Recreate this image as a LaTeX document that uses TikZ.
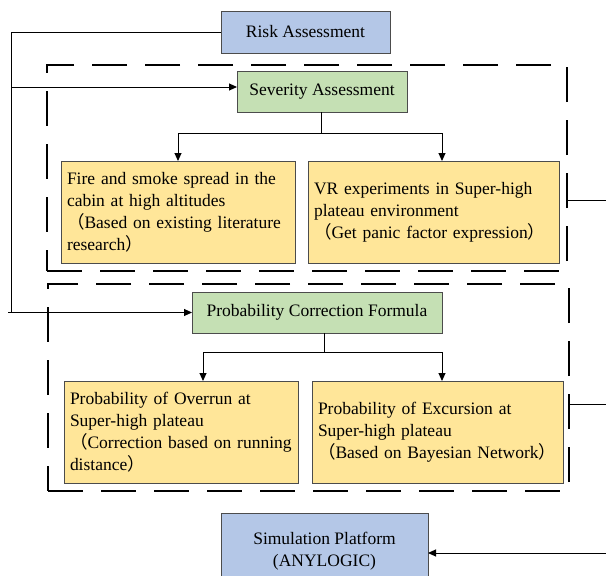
\documentclass[tikz,border=0pt]{standalone}
\usepackage{fontspec}
\setmainfont{Liberation Serif}
\newfontfamily\cjk{Noto Sans CJK SC}
\usepackage{xcolor}
\usepackage{tikz}
\usetikzlibrary{arrows.meta}
\newcommand{\flp}{{\cjk （}}
\newcommand{\frp}{{\cjk ）}}
\definecolor{boxblue}{HTML}{B4C7E7}
\definecolor{boxgreen}{HTML}{C5E0B4}
\definecolor{boxyellow}{HTML}{FFE699}
\tikzset{
  box/.style={draw=black!70,line width=0.9pt,inner sep=0pt,outer sep=0pt,font={\fontsize{17.5}{22}\selectfont}},
  bluebox/.style={box,fill=boxblue,align=center},
  greenbox/.style={box,fill=boxgreen},
  yellowbox/.style={box,fill=boxyellow,align=left,inner xsep=6pt,minimum height=102},
  groupframe/.style={draw,line width=2.2pt,dash pattern=on 35pt off 18pt,inner sep=0pt,outer sep=0pt},
  arr/.style={-{Triangle[length=8pt,width=7pt]}},
}

\begin{document}
\begin{tikzpicture}[x=1pt,y=-1pt,line width=1pt]
\useasboundingbox (0,0) rectangle (606,576);
\clip (0,0) rectangle (606,576);
% ---- RISK ----
\node[bluebox,minimum width=169,minimum height=42] (risk) at (305.5,32) {Risk Assessment};
% ---- SEVERITY ----
\node[groupframe,minimum width=520,minimum height=206] (frameA) at (307,168) {};
\node[greenbox,minimum width=170,minimum height=41] (severity) at (322,91.5) {Severity Assessment};
\node[yellowbox,text width=222] (fire) at (178,212)
  {Fire and smoke spread in the\\cabin at high altitudes\\\flp Based on existing literature\\research\frp};
\node[yellowbox,text width=239] (vr) at (433.5,212)
  {VR experiments in Super-high\\plateau environment\\\flp Get panic factor expression\frp};
% ---- PROBABILITY ----
\node[groupframe,minimum width=521,minimum height=207] (frameB) at (308.5,387.5) {};
\node[greenbox,minimum width=250,minimum height=41] (pcf) at (317,312.5) {Probability Correction Formula};
\node[yellowbox,text width=222] (overrun) at (181,432)
  {Probability of Overrun at\\Super-high plateau\\\flp Correction based on running\\distance\frp};
\node[yellowbox,text width=239] (excursion) at (437.5,432)
  {Probability of Excursion at\\Super-high plateau\\\flp Based on Bayesian Network\frp};
% ---- SIMULATION ----
\node[bluebox,minimum width=207,minimum height=77] (sim) at (324.5,551.5) {Simulation Platform\\(ANYLOGIC)};
% ---- CONNECTORS ----
\coordinate (bus) at (11,312.5);
\coordinate (sevsplit) at (321,133);
\coordinate (pcfsplit) at (324,352);
\coordinate (simfeed) at (612,553);
\draw (risk.west) -| (bus);
\draw[arr] ([xshift=-3]bus) -- (pcf.west);
\draw[arr] ([yshift=4.5]severity.west -| bus) -- ([yshift=4.5]severity.west);
\draw (severity.south -| sevsplit) -- (sevsplit);
\draw[arr] (sevsplit) -| (fire.north);
\draw[arr] (sevsplit) -| ([xshift=8.5]vr.north);
\draw (pcf.south -| pcfsplit) -- (pcfsplit);
\draw[arr] (pcfsplit) -| ([xshift=22]overrun.north);
\draw[arr] (pcfsplit) -| ([xshift=4.5]excursion.north);
\draw ([yshift=-32]frameA.east) -- ++(45,0);
\draw ([yshift=-16.5]frameB.east) -- ++(45,0);
\draw[arr] (simfeed) -- (simfeed -| sim.east);
\end{tikzpicture}
\end{document}
